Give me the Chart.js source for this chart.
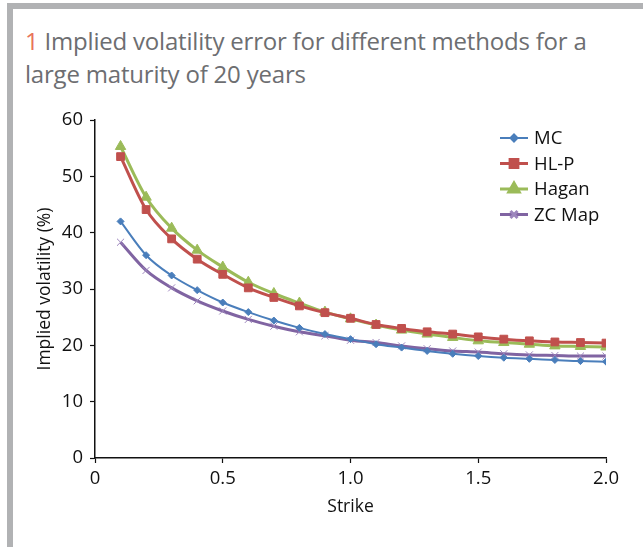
<!DOCTYPE html>
<html>
<head>
<meta charset="utf-8">
<script src="https://cdn.jsdelivr.net/npm/chart.js@4"></script>
<style>
  html, body { margin: 0; padding: 0; background: #fff; }
  #wrap { position: relative; width: 643px; height: 547px; overflow: hidden; }
  #frame {
    position: absolute; left: 7px; top: 3px; width: 700px; height: 539px;
    border-left: 6px solid #b1b2b4; border-top: 6px solid #b1b2b4; border-bottom: 3px solid #b1b2b4;
  }
  #title {
    position: absolute; left: 25px; top: 24px; width: 620px;
    font-family: 'Open Sans', sans-serif; font-size: 24px; line-height: 33px; color: #6d6e71;
    letter-spacing: -0.2px;
  }
  #title span { color: #e8735a; }
  canvas { position: absolute; left: 0; top: 0; }
</style>
</head>
<body>
<div id="wrap">
  <div id="frame"></div>
  <div id="title"><span>1</span> Implied volatility error for different methods for a<br>large maturity of 20 years</div>
  <canvas id="c" width="643" height="547"></canvas>
</div>
<script>
const strikes = [0.1, 0.2, 0.3, 0.4, 0.5, 0.6, 0.7, 0.8, 0.9, 1.0, 1.1, 1.2, 1.3, 1.4, 1.5, 1.6, 1.7, 1.8, 1.9, 2.0];
const mc    = [42.0, 36.0, 32.4, 29.8, 27.6, 25.9, 24.4, 23.1, 22.0, 21.1, 20.2, 19.6, 19.0, 18.5, 18.1, 17.8, 17.6, 17.4, 17.2, 17.1];
const hlp   = [53.5, 44.1, 38.9, 35.3, 32.6, 30.2, 28.5, 27.0, 25.8, 24.8, 23.7, 23.0, 22.4, 22.0, 21.5, 21.1, 20.8, 20.6, 20.5, 20.4];
const hagan = [55.3, 46.3, 40.8, 36.9, 33.9, 31.2, 29.2, 27.5, 25.9, 24.7, 23.6, 22.7, 22.0, 21.4, 20.8, 20.5, 20.2, 19.9, 19.8, 19.7];
const zcMap = [38.3, 33.3, 30.2, 27.9, 26.1, 24.6, 23.4, 22.4, 21.7, 20.9, 20.5, 19.9, 19.4, 19.0, 18.8, 18.5, 18.3, 18.2, 18.1, 18.1];

const xTicks = [0, 0.5, 1.0, 1.5, 2.0];
const yTicks = [0, 10, 20, 30, 40, 50, 60];

const FONT = "'Open Sans', sans-serif";

function toPoints(ys) {
  return strikes.map((x, i) => ({ x, y: ys[i] }));
}

function series(label, ys, color, pointStyle, radius, width, pointColor) {
  return {
    label,
    data: toPoints(ys),
    borderColor: color,
    backgroundColor: pointColor || color,
    pointBackgroundColor: pointColor || color,
    pointBorderColor: pointColor || color,
    pointStyle,
    pointRadius: radius,
    pointBorderWidth: 1,
    borderWidth: width,
    cubicInterpolationMode: 'monotone'
  };
}

// legend drawn as line + marker, like the original
const lineLegend = {
  id: 'lineLegend',
  afterDraw(chart) {
    const ctx = chart.ctx;
    const x0 = 500, y0 = 138, gap = 25.5;
    chart.data.datasets.forEach((ds, i) => {
      const y = y0 + i * gap;
      ctx.save();
      ctx.strokeStyle = ds.borderColor;
      ctx.lineWidth = ds.borderWidth;
      ctx.beginPath();
      ctx.moveTo(x0, y);
      ctx.lineTo(x0 + 28, y);
      ctx.stroke();
      ctx.fillStyle = ds.pointBackgroundColor;
      ctx.strokeStyle = ds.pointBorderColor;
      Chart.helpers.drawPoint(ctx, {
        pointStyle: ds.pointStyle,
        radius: ds.pointRadius,
        borderWidth: 1
      }, x0 + 14, y);
      ctx.fillStyle = '#111';
      ctx.font = "18.5px " + FONT;
      ctx.textBaseline = 'middle';
      ctx.fillText(ds.label, x0 + 34, y + 1);
      ctx.restore();
    });
  }
};

new Chart(document.getElementById('c'), {
  type: 'line',
  data: {
    datasets: [
      series('MC', mc, '#4a7ebb', 'rectRot', 3.5, 2),
      series('HL-P', hlp, '#c0504d', 'rect', 5.5, 3),
      series('Hagan', hagan, '#9bbb59', 'triangle', 6, 3),
      series('ZC Map', zcMap, '#8064a2', 'crossRot', 5, 3, '#9d86bd')
    ]
  },
  options: {
    responsive: false,
    animation: false,
    layout: { padding: { left: 0, right: 37, top: 120, bottom: 29 } },
    plugins: {
      legend: { display: false },
      tooltip: { enabled: false }
    },
    scales: {
      x: {
        type: 'linear',
        min: 0,
        max: 2,
        afterBuildTicks(scale) { scale.ticks = xTicks.map(v => ({ value: v })); },
        afterFit(scale) { scale.height = 60; },
        ticks: {
          color: '#111',
          font: { family: FONT, size: 18.5 },
          padding: 5,
          callback: v => v === 0 ? '0' : v.toFixed(1)
        },
        grid: { drawOnChartArea: false, drawTicks: true, tickLength: 5, tickColor: '#111', tickWidth: 1.2 },
        border: { color: '#111', width: 1.5 },
        title: { display: true, text: 'Strike', color: '#111', font: { family: FONT, size: 17.5 }, padding: { top: 0, bottom: 0 } }
      },
      y: {
        min: 0,
        max: 60,
        afterBuildTicks(scale) { scale.ticks = yTicks.map(v => ({ value: v })); },
        afterFit(scale) { scale.width = 95; },
        ticks: {
          color: '#111',
          font: { family: FONT, size: 18.5 },
          padding: 7
        },
        grid: { drawOnChartArea: false, drawTicks: true, tickLength: 5, tickColor: '#111', tickWidth: 1.2 },
        border: { color: '#111', width: 1.5 },
        title: { display: true, text: 'Implied volatility (%)', color: '#111', font: { family: FONT, size: 17.5 }, padding: { top: 35, bottom: 0 } }
      }
    }
  },
  plugins: [lineLegend]
});
</script>
</body>
</html>
